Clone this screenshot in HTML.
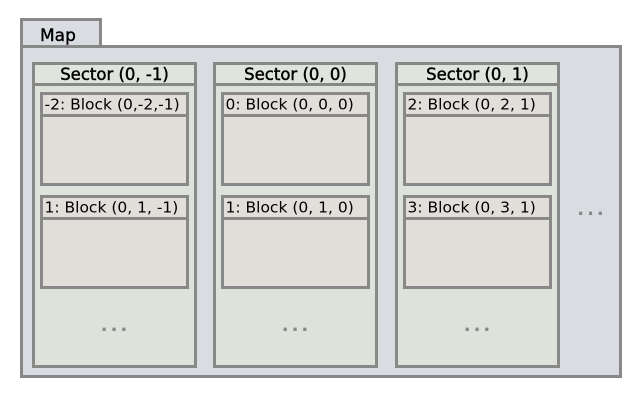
<!DOCTYPE html>
<html><head><meta charset="utf-8"><style>body{margin:0;background:#fff}svg{display:block}text{font-family:"DejaVu Sans","Liberation Sans",sans-serif;fill:#000}</style></head>
<body>
<svg width="640" height="400">
<g>
<rect x="21.5" y="19.5" width="79" height="27" fill="#d9dce1" stroke="#888" stroke-width="3"/>
<text x="40" y="41" font-size="17" stroke="#000" stroke-width="0.4">Map</text>
<rect x="21.5" y="46.5" width="599" height="330" fill="#d9dce1" stroke="#888" stroke-width="3"/>
<text x="592" y="215" font-size="18" font-weight="bold" letter-spacing="3" text-anchor="middle" style="fill:#888">...</text>
</g>
<g id="sectors"></g>
</svg>
<script>
const sectorTitles=["Sector (0, -1)","Sector (0, 0)","Sector (0, 1)"];
const blockTitles=[["-2: Block (0,-2,-1)","1: Block (0, 1, -1)"],["0: Block (0, 0, 0)","1: Block (0, 1, 0)"],["2: Block (0, 2, 1)","3: Block (0, 3, 1)"]];
const sx=[33.5,214.5,396.5];
const ns="http://www.w3.org/2000/svg";
const g=document.getElementById('sectors');
function mk(t,a,txt){const e=document.createElementNS(ns,t);for(const k in a)e.setAttribute(k,a[k]);if(txt)e.textContent=txt;return e;}
sectorTitles.forEach((s,i)=>{
 const x=sx[i];
 const grp=mk('g',{});
 
 
 const body=mk('rect',{x:x,y:63.5,width:162,height:303,fill:'#dde2db',stroke:'#888','stroke-width':3});
 
 
 grp.appendChild(body);
 const hd=mk('rect',{x:x,y:63.5,width:162,height:21,fill:'#dfe4dc',stroke:'#888','stroke-width':3});
 
 
 grp.appendChild(hd);
 const t=mk('text',{x:x+81,y:80,'font-size':16.5,stroke:'#000','stroke-width':0.45,'text-anchor':'middle'},s);
 
 
 grp.appendChild(t);
 blockTitles[i].forEach((b,j)=>{
  const y=93.5+j*103;
  const br=mk('rect',{x:x+8,y:y,width:146,height:91,fill:'#e2dfdb',stroke:'#888','stroke-width':3});
  
  
  grp.appendChild(br);
  const bl=mk('line',{x1:x+8,x2:x+154,y1:y+22,y2:y+22,stroke:'#888','stroke-width':3});
  
  
  grp.appendChild(bl);
  const bt=mk('text',{x:x+11,y:y+16,'font-size':15.5},b);
  
  
  grp.appendChild(bt);
 });
 const d=mk('text',{x:x+82,y:331,'font-size':18,'font-weight':'bold','letter-spacing':3,'text-anchor':'middle',style:'fill:#888'},'...');
 
 
 grp.appendChild(d);
 g.appendChild(grp);
});
</script>
</body></html>
